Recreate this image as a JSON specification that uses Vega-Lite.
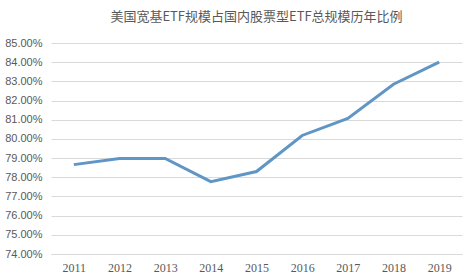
{
  "$schema": "https://vega.github.io/schema/vega-lite/v6.json",
  "width": 472,
  "height": 279,
  "autosize": {"type": "fit", "contains": "padding"},
  "padding": {"left": 4, "right": 10, "top": 11, "bottom": 6},
  "background": "white",
  "title": {
    "text": "美国宽基ETF规模占国内股票型ETF总规模历年比例",
    "font": "Noto Sans CJK SC",
    "fontSize": 13,
    "fontWeight": "normal",
    "color": "#595959",
    "anchor": "middle",
    "offset": 13
  },
  "data": {
    "values": [
      {"year": "2011", "ratio": 0.7866},
      {"year": "2012", "ratio": 0.7898},
      {"year": "2013", "ratio": 0.7898},
      {"year": "2014", "ratio": 0.7777},
      {"year": "2015", "ratio": 0.7830},
      {"year": "2016", "ratio": 0.8018},
      {"year": "2017", "ratio": 0.8107},
      {"year": "2018", "ratio": 0.8285},
      {"year": "2019", "ratio": 0.8400}
    ]
  },
  "mark": {"type": "line", "color": "#5f96c6", "strokeWidth": 3},
  "encoding": {
    "x": {
      "field": "year",
      "type": "ordinal",
      "scale": {"type": "point", "padding": 0.5},
      "axis": {
        "title": null,
        "labelAngle": 0,
        "labelFont": "Liberation Serif",
        "labelFontSize": 12,
        "labelColor": "#595959",
        "ticks": false,
        "domainColor": "#d9d9d9",
        "labelPadding": 8,
        "grid": false
      }
    },
    "y": {
      "field": "ratio",
      "type": "quantitative",
      "scale": {"domain": [0.74, 0.85], "nice": false, "zero": false},
      "axis": {
        "title": null,
        "values": [0.74, 0.75, 0.76, 0.77, 0.78, 0.79, 0.80, 0.81, 0.82, 0.83, 0.84, 0.85],
        "format": ".2%",
        "labelFont": "Liberation Sans",
        "labelFontSize": 11,
        "labelColor": "#595959",
        "ticks": false,
        "domain": false,
        "gridColor": "#d9d9d9",
        "labelPadding": 9,
        "minExtent": 45
      }
    }
  },
  "config": {"view": {"stroke": null}}
}
